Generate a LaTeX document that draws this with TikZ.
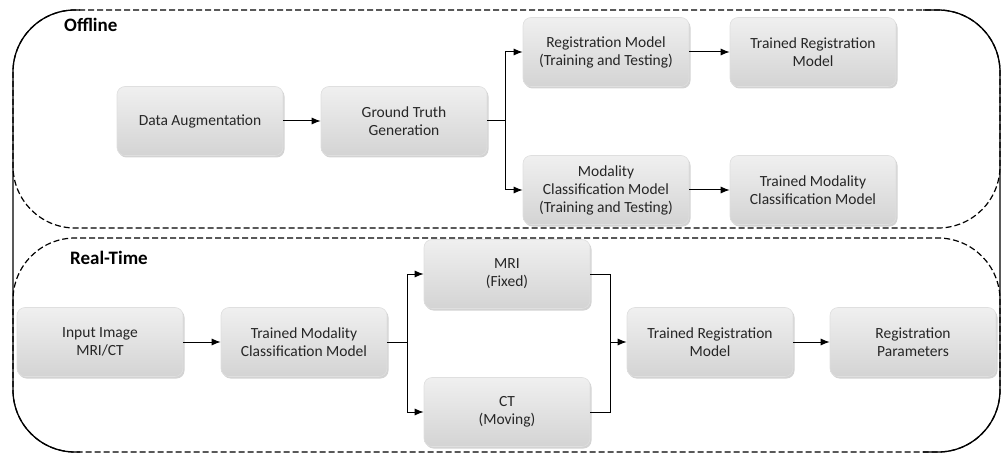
\documentclass[tikz,border=0pt]{standalone}
\usepackage{fontspec}
\setmainfont{Carlito}
\usetikzlibrary{arrows.meta,shadows,positioning}
\tikzset{
  stepbox/.style={rounded corners=8pt, minimum width=166pt, minimum height=69pt,
    top color=gray!12, bottom color=gray!34, draw=gray!25, line width=0.6pt,
    align=center, font=\fontsize{15.5}{18}\selectfont, text=black!85,
    drop shadow={shadow xshift=1.5pt, shadow yshift=-2pt, opacity=0.35, fill=gray}},
  conn/.style={line width=1pt, -{Latex[length=9pt,width=7pt]}},
  plainconn/.style={line width=1pt},
  region/.style={line width=1.2pt, dash pattern=on 6pt off 3pt, rounded corners=62pt},
  frame/.style={line width=1.3pt, rounded corners=62pt},
  title/.style={font=\bfseries\fontsize{19}{21}\selectfont, anchor=west, inner sep=0pt}
}
\begin{document}
\begin{tikzpicture}[x=1pt,y=-1pt]
\useasboundingbox (0,0) rectangle (1003,457);
% regions
\draw[region] (13,10) rectangle (1000,228);
\draw[region] (13,238) rectangle (1000,452);
% solid outer frame sides
\draw[frame] (80,10) -- (13,10) -- (13,452) -- (80,452);
\draw[frame] (923,10) -- (1000,10) -- (1000,452) -- (923,452);
% titles
\node[title] (toff) at (64,25) {Offline};
\node[title] (trt) at (70,258) {Real-Time};
% offline nodes
\node[stepbox] (da) at (200,121) {Data Augmentation};
\node[stepbox] (gt) at (404,121) {Ground Truth\\Generation};
\node[stepbox] (rm) at (606,52) {Registration Model\\(Training and Testing)};
\node[stepbox] (trm) at (813,52) {Trained Registration\\Model};
\node[stepbox] (mcm) at (606,190) {Modality\\Classification Model\\(Training and Testing)};
\node[stepbox] (tmcm) at (813,190) {Trained Modality\\Classification Model};
% real-time nodes
\node[stepbox] (in) at (100,342) {Input Image\\MRI/CT};
\node[stepbox] (rtm) at (304,342) {Trained Modality\\Classification Model};
\node[stepbox] (mri) at (507,274) {MRI\\(Fixed)};
\node[stepbox] (ct) at (507,412) {CT\\(Moving)};
\node[stepbox] (rtr) at (710,342) {Trained Registration\\Model};
\node[stepbox] (rp) at (913,342) {Registration\\Parameters};
% coordinates for branches
\coordinate (b1) at (505,121);
\coordinate (b2) at (407,342);
\coordinate (b3) at (610,342);
% offline connectors
\draw[conn] (da) -- (gt);
\draw[plainconn] (gt.east) -- (b1);
\draw[conn] (b1) |- (rm.west);
\draw[conn] (b1) |- (mcm.west);
\draw[conn] (rm) -- (trm);
\draw[conn] (mcm) -- (tmcm);
% real-time connectors
\draw[conn] (in) -- (rtm);
\draw[plainconn] (rtm.east) -- (b2);
\draw[conn] (b2) |- (mri.west);
\draw[conn] (b2) |- (ct.west);
\draw[plainconn] (mri.east) -| (b3);
\draw[plainconn] (ct.east) -| (b3);
\draw[conn] (b3) -- (rtr.west);
\draw[conn] (rtr) -- (rp);
\end{tikzpicture}
\end{document}
